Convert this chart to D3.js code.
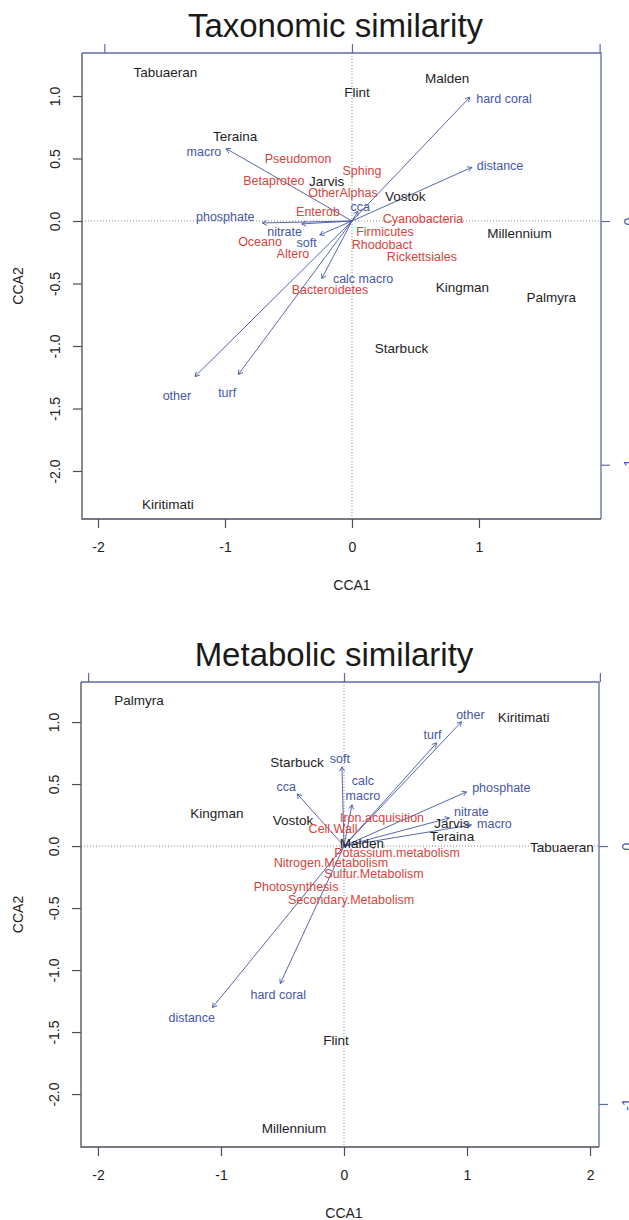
<!DOCTYPE html>
<html>
<head>
<meta charset="utf-8">
<script src="https://cdn.jsdelivr.net/npm/d3@7"></script>
<style>
  body { margin: 0; background: #fff; }
  text { font-family: "Liberation Sans", Arial, sans-serif; }
</style>
</head>
<body>
<div id="chart"></div>
<script>
// ---- Taxonomic similarity ----
var taxSites = ["Tabuaeran", "Flint", "Malden", "Teraina", "Jarvis", "Vostok",
  "Millennium", "Kingman", "Palmyra", "Starbuck", "Kiritimati"];
var taxSiteX = [-1.47, 0.04, 0.75, -0.92, -0.20, 0.42, 1.32, 0.87, 1.57, 0.39, -1.45];
var taxSiteY = [1.19, 1.03, 1.14, 0.68, 0.32, 0.20, -0.10, -0.53, -0.61, -1.02, -2.27];

var taxTaxa = ["Pseudomon", "Sphing", "Betaproteo", "OtherAlphas", "Enterob", "Cyanobacteria",
  "Firmicutes", "Oceano", "Rhodobact", "Altero", "Rickettsiales", "Bacteroidetes"];
var taxTaxaX = [-0.425, 0.079, -0.615, -0.071, -0.268, 0.559, 0.26, -0.724, 0.236, -0.465, 0.551, -0.173];
var taxTaxaY = [0.496, 0.40, 0.32, 0.224, 0.072, 0.016, -0.088, -0.168, -0.192, -0.264, -0.288, -0.552];

var taxEnv = ["hard coral", "distance", "macro", "phosphate", "nitrate", "soft", "cca",
  "calc macro", "other", "turf"];
var taxEnvX = [0.476, 0.484, -0.508, -0.362, -0.203, -0.13, 0.024, -0.122, -0.634, -0.459];
var taxEnvY = [0.508, 0.22, 0.297, -0.008, -0.012, -0.057, 0.04, -0.236, -0.638, -0.63];
var taxEnvLabX = [0.614, 0.598, -0.598, -0.512, -0.272, -0.183, 0.033, 0.045, -0.707, -0.504];
var taxEnvLabY = [0.504, 0.228, 0.285, 0.016, -0.045, -0.089, 0.057, -0.236, -0.715, -0.703];

// ---- Metabolic similarity ----
var metSites = ["Palmyra", "Kiritimati", "Starbuck", "Kingman", "Vostok", "Malden",
  "Jarvis", "Teraina", "Tabuaeran", "Flint", "Millennium"];
var metSiteX = [-1.667, 1.46, -0.382, -1.033, -0.415, 0.146, 0.878, 0.878, 1.772, -0.065, -0.407];
var metSiteY = [1.177, 1.04, 0.677, 0.266, 0.21, 0.024, 0.185, 0.081, -0.008, -1.565, -2.274];

var metFuncs = ["Iron.acquisition", "Cell.Wall", "Potassium.metabolism", "Nitrogen.Metabolism",
  "Sulfur.Metabolism", "Photosynthesis", "Secondary.Metabolism"];
var metFuncX = [0.309, -0.089, 0.431, -0.106, 0.244, -0.39, 0.057];
var metFuncY = [0.226, 0.137, -0.056, -0.137, -0.226, -0.331, -0.435];

var metEnv = ["other", "turf", "soft", "calc\nmacro", "cca", "phosphate", "nitrate", "macro",
  "distance", "hard coral"];
var metEnvX = [0.459, 0.362, -0.008, 0.031, -0.183, 0.479, 0.412, 0.498, -0.514, -0.249];
var metEnvY = [0.482, 0.40, 0.307, 0.16, 0.202, 0.21, 0.109, 0.082, -0.626, -0.533];
var metEnvLabX = [0.494, 0.346, -0.016, 0.074, -0.226, 0.615, 0.498, 0.588, -0.595, -0.257];
var metEnvLabY = [0.51, 0.432, 0.339, 0.226, 0.23, 0.226, 0.132, 0.086, -0.665, -0.576];

var yTicks = [-2, -1.5, -1, -0.5, 0, 0.5, 1];
var bipTicksTop = [-1, 0, 1];
var bipTicksRight = [-1, 0];

var siteCol = "#1e1e1e";
var specCol = "#d6443e";
var envCol = "#4557a3";
var axisBlue = "#5d6ca6";
var frameCol = "#4a4f5c";

var root = d3.select("#chart")
  .append("svg")
  .attr("width", 629)
  .attr("height", 1220);

function fmt1(d) { return d3.format(".1f")(d).replace("\u2212", "-"); }
function fmt0(d) { return d3.format("d")(d).replace("\u2212", "-"); }

function arrowPath(x0, y0, x1, y1) {
  var a = Math.atan2(y1 - y0, x1 - x0), len = 5, w = Math.PI / 6;
  var p1 = [x1 - len * Math.cos(a - w), y1 - len * Math.sin(a - w)];
  var p2 = [x1 - len * Math.cos(a + w), y1 - len * Math.sin(a + w)];
  return "M" + x0 + "," + y0 + "L" + x1 + "," + y1 +
    "M" + p1[0] + "," + p1[1] + "L" + x1 + "," + y1 + "L" + p2[0] + "," + p2[1];
}

function biplot(opt) {
  var x = d3.scaleLinear().domain(opt.xDomain).range([opt.left, opt.right]);
  var y = d3.scaleLinear().domain(opt.yDomain).range([opt.bottom, opt.top]);
  var xB = d3.scaleLinear().domain(opt.xDomain.map(function(d) { return d / opt.mul; })).range(x.range());
  var yB = d3.scaleLinear().domain(opt.yDomain.map(function(d) { return d / opt.mul; })).range(y.range());

  var g = root.append("g");

  // title
  g.append("text")
    .attr("x", (opt.left + opt.right) / 2 - 6)
    .attr("y", opt.top - 16)
    .style("font-size", "33px")
    .style("text-anchor", "middle")
    .style("fill", "#1a1a1a")
    .text(opt.title);

  // dotted zero lines
  g.append("line")
    .attr("x1", x(0)).attr("x2", x(0))
    .attr("y1", opt.top).attr("y2", opt.bottom)
    .style("stroke", "#8a8a8a").style("stroke-width", 1)
    .style("stroke-dasharray", "1,2");
  g.append("line")
    .attr("x1", opt.left).attr("x2", opt.right)
    .attr("y1", y(0)).attr("y2", y(0))
    .style("stroke", "#8a8a8a").style("stroke-width", 1)
    .style("stroke-dasharray", "1,2");

  // frame: left + bottom dark, top + right blue (biplot axes)
  g.append("path")
    .attr("d", "M" + opt.left + "," + opt.top + "V" + opt.bottom + "H" + opt.right)
    .style("fill", "none").style("stroke", frameCol).style("stroke-width", 1.3);
  g.append("path")
    .attr("d", "M" + opt.left + "," + opt.top + "H" + opt.right + "V" + opt.bottom)
    .style("fill", "none").style("stroke", axisBlue).style("stroke-width", 1.3);

  // bottom axis
  var ax = g.append("g")
    .attr("transform", "translate(0," + opt.bottom + ")")
    .call(d3.axisBottom(x).tickValues(opt.xTicks).tickSize(9).tickSizeOuter(0).tickFormat(fmt0));
  ax.select(".domain").remove();
  ax.selectAll("line").style("stroke", frameCol).style("stroke-width", 1.2);
  ax.selectAll("text")
    .attr("y", 28).attr("dy", "0.35em")
    .style("font-family", "Liberation Sans, Arial, sans-serif")
    .style("font-size", "14px").style("fill", "#222");

  // left axis
  var ay = g.append("g")
    .attr("transform", "translate(" + opt.left + ",0)")
    .call(d3.axisLeft(y).tickValues(yTicks).tickSize(9).tickSizeOuter(0).tickFormat(fmt1));
  ay.select(".domain").remove();
  ay.selectAll("line").style("stroke", frameCol).style("stroke-width", 1.2);
  ay.selectAll("text")
    .attr("x", 0).attr("dy", "0.35em")
    .attr("transform", "translate(-27,0) rotate(-90)")
    .style("text-anchor", "middle")
    .style("font-family", "Liberation Sans, Arial, sans-serif")
    .style("font-size", "14px").style("fill", "#222");

  // top biplot axis
  var at = g.append("g")
    .attr("transform", "translate(0," + opt.top + ")")
    .call(d3.axisTop(xB).tickValues(bipTicksTop).tickSize(9).tickSizeOuter(0).tickFormat(""));
  at.select(".domain").remove();
  at.selectAll("line").style("stroke", axisBlue).style("stroke-width", 1.2);

  // right biplot axis
  var ar = g.append("g")
    .attr("transform", "translate(" + opt.right + ",0)")
    .call(d3.axisRight(yB).tickValues(bipTicksRight).tickSize(9).tickSizeOuter(0).tickFormat(fmt0));
  ar.select(".domain").remove();
  ar.selectAll("line").style("stroke", axisBlue).style("stroke-width", 1.2);
  ar.selectAll("text")
    .attr("x", 0).attr("dy", "0.35em")
    .attr("transform", "translate(28,0) rotate(-90)")
    .style("text-anchor", "middle")
    .style("font-family", "Liberation Sans, Arial, sans-serif")
    .style("font-size", "14px").style("fill", envCol);

  // axis titles
  g.append("text")
    .attr("x", x(0))
    .attr("y", opt.bottom + 71)
    .style("font-size", "14px").style("text-anchor", "middle").style("fill", "#222")
    .text("CCA1");
  g.append("text")
    .attr("transform", "translate(18," + ((opt.top + opt.bottom) / 2) + ") rotate(-90)")
    .attr("dy", "0.35em")
    .style("font-size", "14px").style("text-anchor", "middle").style("fill", "#222")
    .text("CCA2");

  // environmental arrows
  g.selectAll(".arrow")
    .data(opt.env)
    .enter().append("path")
    .attr("d", function(d, i) {
      return arrowPath(xB(0), yB(0), xB(opt.envX[i]), yB(opt.envY[i]));
    })
    .style("fill", "none").style("stroke", envCol).style("stroke-width", 0.9);

  // site labels
  g.selectAll(".site")
    .data(opt.sites)
    .enter().append("text")
    .attr("x", function(d, i) { return x(opt.siteX[i]); })
    .attr("y", function(d, i) { return y(opt.siteY[i]); })
    .attr("dy", "0.35em")
    .style("font-size", "13.5px").style("text-anchor", "middle").style("fill", siteCol)
    .text(function(d) { return d; });

  // species / function labels
  g.selectAll(".spec")
    .data(opt.spec)
    .enter().append("text")
    .attr("x", function(d, i) { return x(opt.specX[i]); })
    .attr("y", function(d, i) { return y(opt.specY[i]); })
    .attr("dy", "0.35em")
    .style("font-size", "12.5px").style("text-anchor", "middle").style("fill", specCol)
    .text(function(d) { return d; });

  // arrow labels
  g.selectAll(".envlab")
    .data(opt.env)
    .enter().append("text")
    .attr("y", function(d, i) { return yB(opt.envLabY[i]); })
    .style("font-size", "12.5px").style("text-anchor", "middle").style("fill", envCol)
    .each(function(d, i) {
      var lines = d.split("\n");
      var t = d3.select(this);
      lines.forEach(function(line, k) {
        t.append("tspan")
          .attr("x", xB(opt.envLabX[i]))
          .attr("dy", k === 0 ? (0.35 - (lines.length - 1) * 0.6) + "em" : "1.2em")
          .text(line);
      });
    });
}

biplot({
  title: "Taxonomic similarity",
  left: 82, right: 601, top: 53, bottom: 519,
  xDomain: [-2.126, 1.961], yDomain: [-2.384, 1.344],
  mul: 1.95,
  xTicks: [-2, -1, 0, 1],
  sites: taxSites, siteX: taxSiteX, siteY: taxSiteY,
  spec: taxTaxa, specX: taxTaxaX, specY: taxTaxaY,
  env: taxEnv, envX: taxEnvX, envY: taxEnvY, envLabX: taxEnvLabX, envLabY: taxEnvLabY
});

biplot({
  title: "Metabolic similarity",
  left: 81, right: 599, top: 682, bottom: 1147,
  xDomain: [-2.138, 2.073], yDomain: [-2.427, 1.323],
  mul: 2.08,
  xTicks: [-2, -1, 0, 1, 2],
  sites: metSites, siteX: metSiteX, siteY: metSiteY,
  spec: metFuncs, specX: metFuncX, specY: metFuncY,
  env: metEnv, envX: metEnvX, envY: metEnvY, envLabX: metEnvLabX, envLabY: metEnvLabY
});
</script>
</body>
</html>
